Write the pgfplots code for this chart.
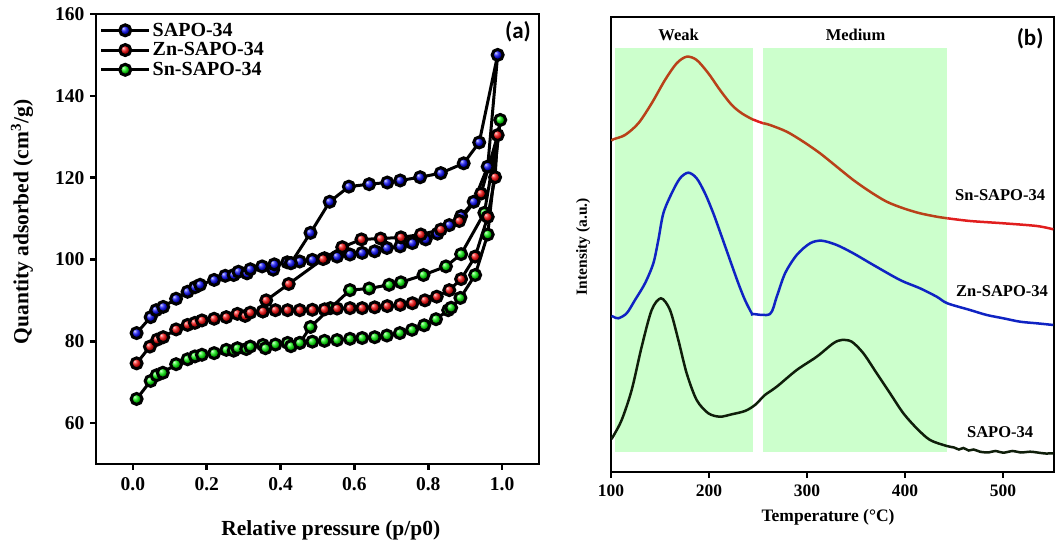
\documentclass[border=0pt]{standalone}
\usepackage{fontspec}
\setmainfont{Liberation Serif}
\newfontfamily\carlito{Carlito}
\usepackage{pgfplots}
\pgfplotsset{compat=1.18}
\definecolor{boxgreen}{RGB}{204,255,204}
\definecolor{snbrown}{RGB}{185,65,25}
\definecolor{snred}{RGB}{225,30,30}
\definecolor{znblue}{RGB}{15,35,195}
\definecolor{sapoblack}{RGB}{15,30,10}
\definecolor{ballblue}{RGB}{10,10,245}
\definecolor{ballred}{RGB}{245,10,10}
\definecolor{ballgreen}{RGB}{10,240,10}
\begin{document}
\begin{tikzpicture}
\path[use as bounding box] (0pt,0pt) rectangle (1062pt,545pt);
% ---------------- panel (a) ----------------
\begin{axis}[
  at={(96pt,81pt)}, anchor=south west, scale only axis,
  width=443pt, height=450pt,
  xmin=-0.1, xmax=1.1, ymin=50, ymax=160,
  xtick={0,0.2,0.4,0.6,0.8,1.0}, ytick={60,80,100,120,140,160},
  xticklabel style={/pgf/number format/fixed, /pgf/number format/fixed zerofill, /pgf/number format/precision=1, yshift=-4pt},
  /pgf/number format/assume math mode=true,
  tick label style={font=\fontsize{19.5}{19.5}\selectfont\bfseries},
  yticklabel style={xshift=-2pt},
  axis line style={line width=2.6pt},
  tick style={line width=2.6pt, black},
  major tick length=6pt, tick align=outside,
  xtick pos=bottom, ytick pos=left,
  xlabel={\bfseries Relative pressure (p/p0)},
  xlabel style={font=\fontsize{21.5}{21.5}\selectfont, at={(axis description cs:0.53,-0.147)}, anchor=center},
  ylabel={\bfseries Quantity adsorbed (cm$^{\mathbf{3}}$/g)},
  ylabel style={font=\fontsize{21.5}{21.5}\selectfont, at={(axis description cs:-0.167,0.538)}, anchor=center},
  legend style={draw=none, fill=none, at={(0.008,0.985)}, anchor=north west,
    font=\fontsize{20}{20}\selectfont\bfseries, row sep=1pt, inner sep=0pt, cells={anchor=west}},
  legend image code/.code={\draw[mark repeat=2,mark phase=2,#1] plot coordinates {(0pt,0pt) (24pt,0pt) (48pt,0pt)};},
  clip=false
]
\addlegendimage{black, line width=3pt, mark=ball, mark size=5.5pt, mark options={ball color=ballblue}}
\addlegendentry{SAPO-34}
\addlegendimage{black, line width=3pt, mark=ball, mark size=5.5pt, mark options={ball color=ballred}}
\addlegendentry{Zn-SAPO-34}
\addlegendimage{black, line width=3pt, mark=ball, mark size=5.5pt, mark options={ball color=ballgreen}}
\addlegendentry{Sn-SAPO-34}
% Sn-SAPO-34
\addplot[black, line width=3pt, mark=ball, mark size=5.5pt, mark options={ball color=ballgreen}, forget plot] coordinates {
(0.010,65.9)(0.048,70.3)(0.064,71.7)(0.081,72.3)(0.117,74.4)(0.148,75.6)(0.168,76.3)(0.187,76.7)(0.220,77.1)(0.253,77.9)(0.273,77.7)(0.283,78.3)(0.307,78.1)(0.318,78.7)(0.352,79.1)(0.359,78.3)(0.386,79.2)(0.419,79.6)(0.428,78.8)(0.452,79.6)(0.486,79.9)(0.519,80.1)(0.553,80.3)(0.588,80.6)(0.621,80.8)(0.655,81.0)(0.688,81.4)(0.723,82.0)(0.756,82.8)(0.789,83.9)(0.821,85.4)(0.854,87.6)(0.862,88.2)(0.887,90.6)(0.927,96.2)(0.961,106.1)(0.995,134.1)
(0.952,111.4)(0.889,101.3)(0.848,98.3)(0.787,96.2)(0.726,94.4)(0.694,93.8)(0.640,92.9)(0.588,92.5)(0.535,88.1)(0.481,83.5)(0.452,79.6)
};
% SAPO-34
\addplot[black, line width=3pt, mark=ball, mark size=5.5pt, mark options={ball color=ballblue}, forget plot] coordinates {
(0.010,82.0)(0.048,85.9)(0.063,87.6)(0.082,88.4)(0.117,90.4)(0.148,92.1)(0.168,93.2)(0.182,93.8)(0.220,95.0)(0.250,96.0)(0.273,96.2)(0.286,97.0)(0.309,96.6)(0.318,97.6)(0.350,98.3)(0.380,97.5)(0.383,98.8)(0.418,99.3)(0.428,99.1)(0.452,99.5)(0.486,99.9)(0.519,100.3)(0.553,100.7)(0.588,101.2)(0.621,101.6)(0.655,102.0)(0.688,102.8)(0.724,103.2)(0.757,104.0)(0.793,104.9)(0.825,106.3)(0.857,108.4)(0.889,110.6)(0.923,114.1)(0.961,122.7)(0.988,150.0)
(0.938,128.6)(0.896,123.5)(0.834,121.1)(0.778,120.1)(0.724,119.3)(0.689,118.8)(0.640,118.4)(0.585,117.8)(0.533,114.1)(0.481,106.5)(0.428,99.1)
};
% Zn-SAPO-34
\addplot[black, line width=3pt, mark=ball, mark size=5.5pt, mark options={ball color=ballred}, forget plot] coordinates {
(0.010,74.6)(0.046,78.7)(0.066,80.4)(0.082,81.0)(0.117,82.9)(0.148,84.0)(0.168,84.5)(0.187,85.1)(0.220,85.5)(0.253,85.9)(0.283,86.7)(0.304,86.2)(0.318,87.0)(0.352,87.3)(0.386,87.6)(0.419,87.6)(0.452,87.6)(0.486,87.7)(0.519,87.8)(0.553,88.0)(0.588,88.1)(0.621,88.1)(0.655,88.3)(0.689,88.6)(0.724,88.9)(0.757,89.3)(0.791,90.0)(0.823,90.9)(0.857,92.5)(0.889,95.2)(0.927,100.7)(0.961,110.4)(0.981,120.1)(0.988,130.4)
(0.943,116.1)(0.884,109.4)(0.834,107.3)(0.780,106.1)(0.726,105.4)(0.671,105.1)(0.619,104.9)(0.567,103.0)(0.515,100.1)(0.422,94.0)(0.361,90.0)(0.352,87.3)
};
\node[font=\carlito\fontsize{23}{23}\selectfont\bfseries] at (axis cs:1.043,155.6) {(a)};
\end{axis}
% ---------------- panel (b) ----------------
\begin{axis}[
  at={(611pt,73pt)}, anchor=south west, scale only axis,
  width=443pt, height=455pt,
  xmin=100, xmax=552, ymin=0, ymax=455,
  xtick={100,200,300,400,500}, ytick=\empty,
  /pgf/number format/assume math mode=true,
  tick label style={font=\fontsize{17.5}{17.5}\selectfont\bfseries},
  xticklabel style={yshift=-3pt},
  axis line style={line width=2.4pt},
  tick style={line width=2.4pt, black},
  major tick length=6pt, tick align=outside,
  xtick pos=bottom,
  xlabel={\bfseries Temperature (°C)},
  xlabel style={font=\fontsize{17.5}{17.5}\selectfont, at={(axis description cs:0.49,-0.099)}, anchor=center},
  ylabel={\bfseries Intensity (a.u.)},
  ylabel style={font=\fontsize{15.5}{15.5}\selectfont, at={(axis description cs:-0.063,0.495)}, anchor=center},
  clip=true
]
\addplot[fill=boxgreen, draw=none] coordinates {(104.1,20)(244.9,20)(244.9,424)(104.1,424)} -- cycle;
\addplot[fill=boxgreen, draw=none] coordinates {(255.1,20)(442.9,20)(442.9,424)(255.1,424)} -- cycle;
% SAPO-34
\addplot[sapoblack, line width=2.5pt, smooth, tension=0.5] coordinates {
(100.5,33)(102.4,36)(110.9,52)(121.1,82)(131.3,125.3)(141.5,162)(151,173.7)(160.2,162)(168.7,132)(177.2,98.7)(187.4,72)(199.3,58.7)(211.2,55.3)(223.2,57.7)(236.7,61)(246.9,67)(257.1,77)(269.1,85.3)(289.5,102)(309.9,115.3)(326.8,128.7)(335.4,132)(345.6,130.3)(357.5,118.7)(371.1,98.7)(384.7,78.7)(398.3,58.7)(411.9,43.7)(425.5,32)(442.6,26)(450,24.5)(455,22.5)(459.5,24)(465,21.5)(470,22.5)(476.5,20.3)(485,19.5)(492,21)(500.3,19.3)(510,21)(518,19.5)(527.6,20.3)(535,19.5)(543,18.5)(551.3,18.7)
};
% Zn-SAPO-34
\addplot[znblue, line width=2.5pt, smooth, tension=0.5] coordinates {
(100.5,156)(102.4,155.3)(107.4,153.7)(116,158.7)(124.5,172)(134.7,188.7)(143.2,208.7)(148.3,232)(153.4,258.7)(161.9,278.7)(170.4,293.7)(178.9,299.3)(187.4,293.7)(195.9,278.7)(204.4,258.7)(213,235.3)(221.4,212)(229.9,188.7)(236.7,172)(243.6,158.7)(245.2,158)(262.2,158)(269.1,175.3)(277.6,198.7)(289.5,217)(303.1,228.7)(315,231.3)(330.3,227)(347.2,218.7)(367.7,207)(394.9,192)(415.3,183.7)(432.3,175.3)(443.2,168.7)(466.3,162)(483.4,157)(500.3,153.7)(517.3,150.3)(534.4,148.7)(551.3,147)
};
% Sn-SAPO-34
\addplot[snbrown, line width=2.5pt, smooth, tension=0.5] coordinates {
(100.5,331)(102.4,332.7)(114.3,337)(127.9,348.7)(141.5,368.7)(155.1,392)(167,408.7)(177.2,415.3)(187.4,412)(199.3,398.7)(211.2,382)(223.2,367)(233.4,358.7)(243.6,353)(245,352.5)
};
\addplot[snred, line width=2.5pt, smooth, tension=0.5] coordinates {
(245,352.5)(250,350.5)(255.4,348.7)
};
\addplot[snbrown, line width=2.5pt, smooth, tension=0.5] coordinates {
(255.4,348.7)(262.2,347)(279.3,340.3)(296.2,330.3)(313.3,318.7)(330.3,305.3)(347.2,292)(364.3,280.3)(381.3,270.3)(398.3,263.7)(415.3,258.7)(432.3,255.3)(443.2,253.7)
};
\addplot[snred, line width=2.5pt, smooth, tension=0.5] coordinates {
(443.2,253.7)(466.3,251)(500.3,248.7)(534.4,246)(551.3,242.7)
};
\node[font=\fontsize{16.5}{16.5}\selectfont\bfseries] at (axis cs:169,437) {Weak};
\node[font=\fontsize{16.5}{16.5}\selectfont\bfseries] at (axis cs:349.5,437) {Medium};
\node[font=\carlito\fontsize{23}{23}\selectfont\bfseries] at (axis cs:527.6,433) {(b)};
\node[font=\fontsize{16.5}{16.5}\selectfont\bfseries] at (axis cs:497,277) {Sn-SAPO-34};
\node[font=\fontsize{16.5}{16.5}\selectfont\bfseries] at (axis cs:499,181) {Zn-SAPO-34};
\node[font=\fontsize{16.5}{16.5}\selectfont\bfseries] at (axis cs:497,40) {SAPO-34};
\end{axis}
\end{tikzpicture}
\end{document}
